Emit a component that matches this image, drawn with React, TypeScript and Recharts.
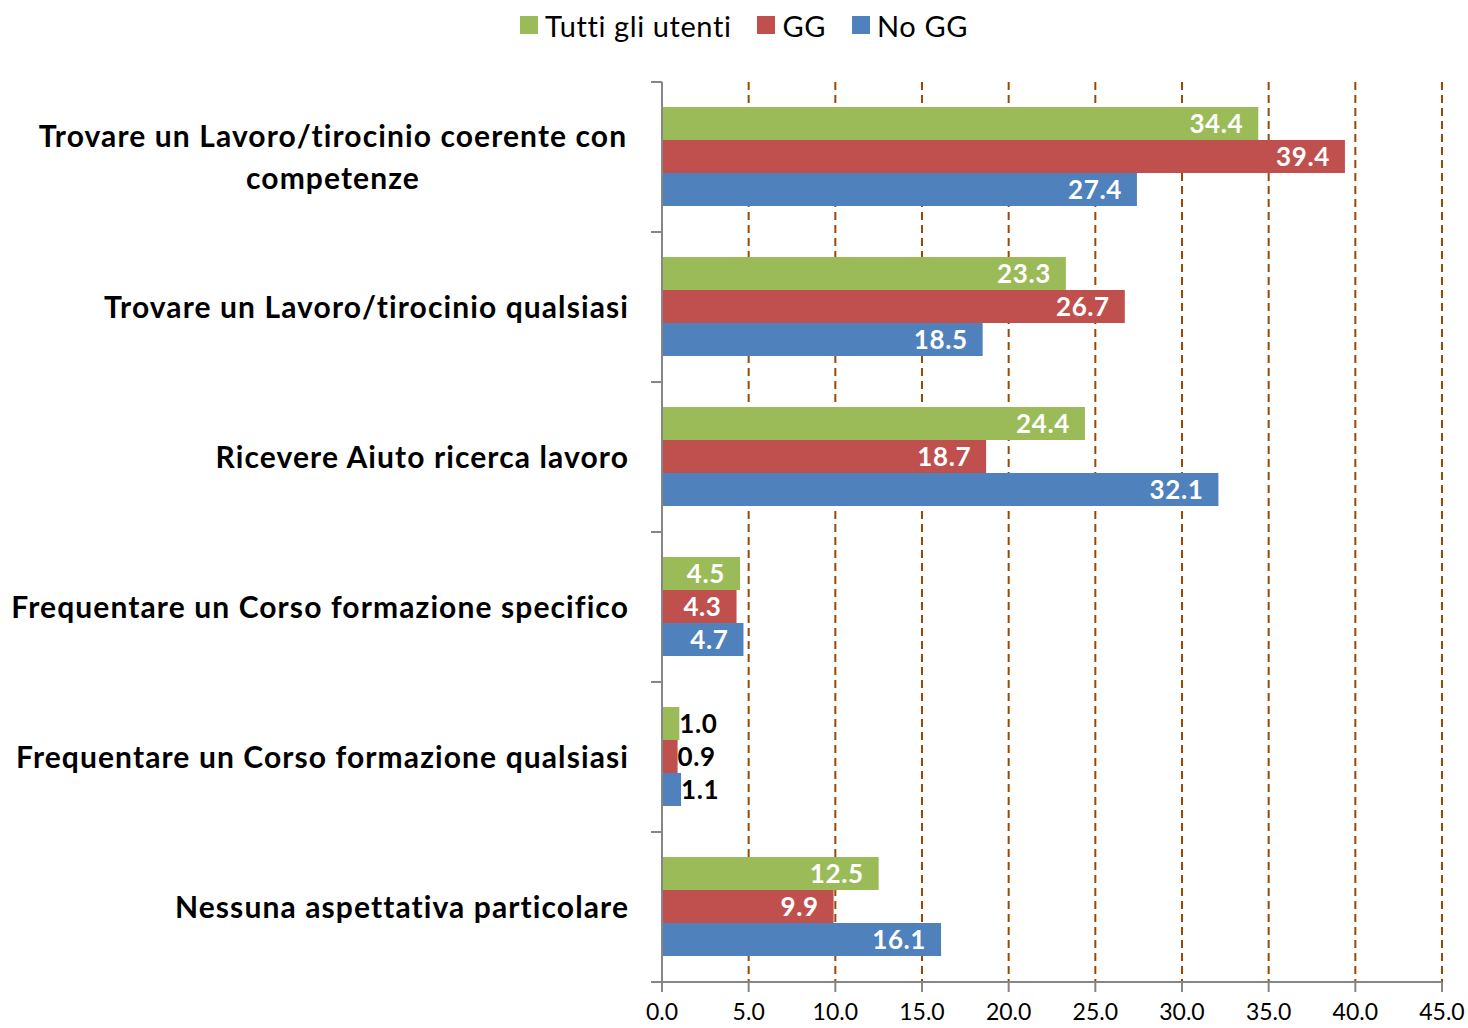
import {
  BarChart,
  Bar,
  XAxis,
  YAxis,
  CartesianGrid,
  Legend,
  LabelList,
} from 'recharts';

const categories = [
  'Trovare un Lavoro/tirocinio coerente con\ncompetenze',
  'Trovare un Lavoro/tirocinio qualsiasi',
  'Ricevere Aiuto ricerca lavoro',
  'Frequentare un Corso formazione specifico',
  'Frequentare un Corso formazione qualsiasi',
  'Nessuna aspettativa particolare',
];

const tuttiUtenti = [34.4, 23.3, 24.4, 4.5, 1.0, 12.5];
const gg = [39.4, 26.7, 18.7, 4.3, 0.9, 9.9];
const noGg = [27.4, 18.5, 32.1, 4.7, 1.1, 16.1];

const xTicks = [0, 5, 10, 15, 20, 25, 30, 35, 40, 45];

const SERIES = [
  { key: 'tutti', name: 'Tutti gli utenti', color: '#9BBB59' },
  { key: 'gg', name: 'GG', color: '#C0504D' },
  { key: 'nogg', name: 'No GG', color: '#4F81BD' },
];

const data = categories.map((label, i) => ({
  label,
  tutti: tuttiUtenti[i],
  gg: gg[i],
  nogg: noGg[i],
}));

const FONT = 'Lato, "Open Sans", sans-serif';
const AXIS_GRAY = '#868686';
const BAND = 150;

function CategoryTick(props: any) {
  const { x, y, payload, index } = props;
  const lines: string[] = String(payload.value).split('\n');
  const axisX = x + 33;
  const textStyle = { letterSpacing: 1.1 };
  return (
    <g>
      <line x1={axisX - 11} x2={axisX} y1={y - BAND / 2} y2={y - BAND / 2} stroke={AXIS_GRAY} strokeWidth={2} />
      {index === categories.length - 1 && (
        <line x1={axisX - 11} x2={axisX} y1={y + BAND / 2} y2={y + BAND / 2} stroke={AXIS_GRAY} strokeWidth={2} />
      )}
      {lines.length === 1 ? (
        <text x={x} y={y} dy="0.35em" textAnchor="end" fontFamily={FONT} fontWeight={700} fontSize={30} fill="#000" style={textStyle}>
          {lines[0]}
        </text>
      ) : (
        <text x={x - 296} y={y} textAnchor="middle" fontFamily={FONT} fontWeight={700} fontSize={30} fill="#000" style={textStyle}>
          <tspan x={x - 296} dy="-0.35em">{lines[0]}</tspan>
          <tspan x={x - 296} dy="1.4em">{lines[1]}</tspan>
        </text>
      )}
    </g>
  );
}

function ValueLabel(props: any) {
  const { x, y, width, height, value } = props;
  const small = value < 2;
  return (
    <text
      x={small ? x + width : x + width - 15}
      y={y + height / 2}
      dy="0.36em"
      textAnchor={small ? 'start' : 'end'}
      fontFamily={FONT}
      fontWeight={700}
      fontSize={26}
      fill={small ? '#000' : '#fff'}
      style={{ letterSpacing: 0.6 }}
    >
      {Number(value).toFixed(1)}
    </text>
  );
}

function LegendContent() {
  return (
    <div style={{ display: 'flex', justifyContent: 'center', alignItems: 'center', height: 50, fontFamily: FONT, fontSize: 29, letterSpacing: 0.6 }}>
      {SERIES.map((s) => (
        <div key={s.key} style={{ display: 'flex', alignItems: 'center', margin: '0 13px' }}>
          <span style={{ width: 18, height: 18, background: s.color, display: 'inline-block', marginRight: 7 }} />
          <span style={{ color: '#000' }}>{s.name}</span>
        </div>
      ))}
    </div>
  );
}

export default function App() {
  return (
    <div style={{ position: 'absolute', left: 0, top: 0, background: '#fff' }}>
      <BarChart
        width={1468}
        height={1028}
        data={data}
        layout="vertical"
        margin={{ top: 32, right: 26, left: 0, bottom: 0 }}
        barCategoryGap={25}
        barGap={0}
      >
        <Legend
          verticalAlign="top"
          align="center"
          content={<LegendContent />}
          wrapperStyle={{ top: 0, left: 10, height: 50, width: 1468 }}
        />
        <CartesianGrid horizontal={false} vertical stroke="#984807" strokeWidth={2} strokeDasharray="8 5" />
        <XAxis
          type="number"
          domain={[0, 45]}
          ticks={xTicks}
          interval={0}
          tickFormatter={(v: number) => v.toFixed(1)}
          axisLine={{ stroke: AXIS_GRAY, strokeWidth: 2 }}
          tickLine={{ stroke: AXIS_GRAY, strokeWidth: 2 }}
          tickSize={10}
          tickMargin={12}
          height={46}
          tick={{ fontFamily: FONT, fontSize: 23, fill: '#000' }}
        />
        <YAxis
          type="category"
          dataKey="label"
          width={662}
          axisLine={{ stroke: AXIS_GRAY, strokeWidth: 2 }}
          tickLine={false}
          tickSize={11}
          tickMargin={22}
          interval={0}
          tick={<CategoryTick />}
        />
        {SERIES.map((s) => (
          <Bar key={s.key} dataKey={s.key} name={s.name} fill={s.color} isAnimationActive={false}>
            <LabelList dataKey={s.key} content={<ValueLabel />} />
          </Bar>
        ))}
      </BarChart>
    </div>
  );
}
